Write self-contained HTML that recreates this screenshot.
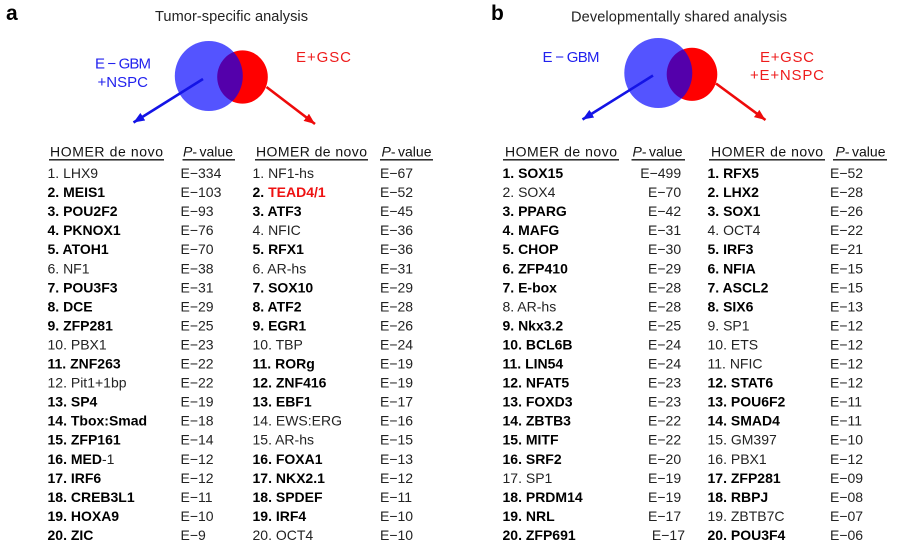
<!DOCTYPE html>
<html>
<head>
<meta charset="utf-8">
<style>
  html, body { margin: 0; padding: 0; background: #fff; }
  svg { display: block; }
  text { font-family: "Liberation Sans", Arial, Helvetica, sans-serif; }
  .row { font-size: 14px; fill: #222; }
  .b { font-weight: bold; fill: #000; }
  .n { font-weight: normal; fill: #222; }
  .hdr { font-size: 14px; fill: #111; }
</style>
</head>
<body>
<svg width="908" height="548" viewBox="0 0 908 548" xmlns="http://www.w3.org/2000/svg">
  <defs>
    <marker id="ab" markerUnits="userSpaceOnUse" markerWidth="11" markerHeight="9" refX="11" refY="4.5" orient="auto">
      <path d="M0,0 L11,4.5 L0,9 z" fill="#1414e6"/>
    </marker>
    <marker id="ar" markerUnits="userSpaceOnUse" markerWidth="11" markerHeight="9" refX="11" refY="4.5" orient="auto">
      <path d="M0,0 L11,4.5 L0,9 z" fill="#ee0a0a"/>
    </marker>
  </defs>
  <rect width="908" height="548" fill="#fff"/>

  <!-- Panel labels and titles -->
  <text x="6" y="20" font-size="21" font-weight="bold" fill="#000">a</text>
  <text x="491" y="20" font-size="21" font-weight="bold" fill="#000">b</text>
  <text x="155" y="21" font-size="14.6" fill="#222" textLength="153" lengthAdjust="spacing">Tumor-specific analysis</text>
  <text x="571" y="21.5" font-size="14.6" fill="#222" textLength="216" lengthAdjust="spacing">Developmentally shared analysis</text>

  <!-- Venn a -->
  <ellipse cx="242.5" cy="77" rx="25.3" ry="26.6" fill="#ff0000"/>
  <ellipse cx="208.8" cy="76" rx="34" ry="35" fill="#0000ff" fill-opacity="0.67"/>
  <line x1="203" y1="79" x2="133.5" y2="122.5" stroke="#1414e6" stroke-width="2.6" marker-end="url(#ab)"/>
  <line x1="266.5" y1="87" x2="315" y2="124" stroke="#ee0a0a" stroke-width="2.6" marker-end="url(#ar)"/>
  <text x="95" y="68.5" font-size="15" fill="#2222ee" textLength="56" lengthAdjust="spacing">E − GBM</text>
  <text x="97.5" y="87" font-size="15" fill="#2222ee" textLength="50.5" lengthAdjust="spacing">+NSPC</text>
  <text x="296" y="62" font-size="15" fill="#ee1c1c" textLength="55" lengthAdjust="spacing">E+GSC</text>

  <!-- Venn b -->
  <ellipse cx="692" cy="74.3" rx="25.3" ry="26.6" fill="#ff0000"/>
  <ellipse cx="658.3" cy="73" rx="34" ry="35" fill="#0000ff" fill-opacity="0.67"/>
  <line x1="653" y1="75.5" x2="582.5" y2="119.5" stroke="#1414e6" stroke-width="2.6" marker-end="url(#ab)"/>
  <line x1="716" y1="83.5" x2="765.5" y2="120" stroke="#ee0a0a" stroke-width="2.6" marker-end="url(#ar)"/>
  <text x="542.5" y="62" font-size="15" fill="#2222ee" textLength="57" lengthAdjust="spacing">E − GBM</text>
  <text x="760" y="62" font-size="15" fill="#ee1c1c" textLength="54" lengthAdjust="spacing">E+GSC</text>
  <text x="750" y="80" font-size="15" fill="#ee1c1c" textLength="74" lengthAdjust="spacing">+E+NSPC</text>

  <!-- Headers -->
  <g class="hdr">
    <text x="50" y="156.5" textLength="113" lengthAdjust="spacing">HOMER de novo</text>
    <text x="183" y="156.5"><tspan font-style="italic">P</tspan>-<tspan dx="2.5">value</tspan></text>
    <text x="256" y="156.5" textLength="111" lengthAdjust="spacing">HOMER de novo</text>
    <text x="381.5" y="156.5"><tspan font-style="italic">P</tspan>-<tspan dx="2.5">value</tspan></text>
    <text x="505" y="156.5" textLength="112" lengthAdjust="spacing">HOMER de novo</text>
    <text x="632.5" y="156.5"><tspan font-style="italic">P</tspan>-<tspan dx="2.5">value</tspan></text>
    <text x="711" y="156.5" textLength="112" lengthAdjust="spacing">HOMER de novo</text>
    <text x="835.5" y="156.5"><tspan font-style="italic">P</tspan>-<tspan dx="2.5">value</tspan></text>
  </g>
  <g stroke="#111" stroke-width="1.3">
    <line x1="49" y1="159.8" x2="164" y2="159.8"/>
    <line x1="182.5" y1="159.8" x2="235" y2="159.8"/>
    <line x1="255" y1="159.8" x2="368" y2="159.8"/>
    <line x1="380" y1="159.8" x2="433" y2="159.8"/>
    <line x1="503" y1="159.8" x2="619" y2="159.8"/>
    <line x1="631.5" y1="159.8" x2="685" y2="159.8"/>
    <line x1="709" y1="159.8" x2="825" y2="159.8"/>
    <line x1="833" y1="159.8" x2="887" y2="159.8"/>
  </g>

  <!-- Panel a, left names -->
  <text class="row" x="47.5" y="178">
    <tspan x="47.5" dy="0" class="n">1. LHX9</tspan>
    <tspan x="47.5" dy="19.05" class="b">2. MEIS1</tspan>
    <tspan x="47.5" dy="19.05" class="b">3. POU2F2</tspan>
    <tspan x="47.5" dy="19.05" class="b">4. PKNOX1</tspan>
    <tspan x="47.5" dy="19.05" class="b">5. ATOH1</tspan>
    <tspan x="47.5" dy="19.05" class="n">6. NF1</tspan>
    <tspan x="47.5" dy="19.05" class="b">7. POU3F3</tspan>
    <tspan x="47.5" dy="19.05" class="b">8. DCE</tspan>
    <tspan x="47.5" dy="19.05" class="b">9. ZFP281</tspan>
    <tspan x="47.5" dy="19.05" class="n">10. PBX1</tspan>
    <tspan x="47.5" dy="19.05" class="b">11. ZNF263</tspan>
    <tspan x="47.5" dy="19.05" class="n">12. Pit1+1bp</tspan>
    <tspan x="47.5" dy="19.05" class="b">13. SP4</tspan>
    <tspan x="47.5" dy="19.05" class="b">14. Tbox:Smad</tspan>
    <tspan x="47.5" dy="19.05" class="b">15. ZFP161</tspan>
    <tspan x="47.5" dy="19.05" class="b">16. MED<tspan class="n">-1</tspan></tspan>
    <tspan x="47.5" dy="19.05" class="b">17. IRF6</tspan>
    <tspan x="47.5" dy="19.05" class="b">18. CREB3L1</tspan>
    <tspan x="47.5" dy="19.05" class="b">19. HOXA9</tspan>
    <tspan x="47.5" dy="19.05" class="b">20. ZIC</tspan>
  </text>
  <text class="row" x="180.5" y="178">
    <tspan x="180.5" dy="0">E−334</tspan>
    <tspan x="180.5" dy="19.05">E−103</tspan>
    <tspan x="180.5" dy="19.05">E−93</tspan>
    <tspan x="180.5" dy="19.05">E−76</tspan>
    <tspan x="180.5" dy="19.05">E−70</tspan>
    <tspan x="180.5" dy="19.05">E−38</tspan>
    <tspan x="180.5" dy="19.05">E−31</tspan>
    <tspan x="180.5" dy="19.05">E−29</tspan>
    <tspan x="180.5" dy="19.05">E−25</tspan>
    <tspan x="180.5" dy="19.05">E−23</tspan>
    <tspan x="180.5" dy="19.05">E−22</tspan>
    <tspan x="180.5" dy="19.05">E−22</tspan>
    <tspan x="180.5" dy="19.05">E−19</tspan>
    <tspan x="180.5" dy="19.05">E−18</tspan>
    <tspan x="180.5" dy="19.05">E−14</tspan>
    <tspan x="180.5" dy="19.05">E−12</tspan>
    <tspan x="180.5" dy="19.05">E−12</tspan>
    <tspan x="180.5" dy="19.05">E−11</tspan>
    <tspan x="180.5" dy="19.05">E−10</tspan>
    <tspan x="180.5" dy="19.05">E−9</tspan>
  </text>

  <!-- Panel a, right names -->
  <text class="row" x="252.5" y="178">
    <tspan x="252.5" dy="0" class="n">1. NF1-hs</tspan>
    <tspan x="252.5" dy="19.05" class="b">2. <tspan fill="#ee1111">TEAD4/1</tspan></tspan>
    <tspan x="252.5" dy="19.05" class="b">3. ATF3</tspan>
    <tspan x="252.5" dy="19.05" class="n">4. NFIC</tspan>
    <tspan x="252.5" dy="19.05" class="b">5. RFX1</tspan>
    <tspan x="252.5" dy="19.05" class="n">6. AR-hs</tspan>
    <tspan x="252.5" dy="19.05" class="b">7. SOX10</tspan>
    <tspan x="252.5" dy="19.05" class="b">8. ATF2</tspan>
    <tspan x="252.5" dy="19.05" class="b">9. EGR1</tspan>
    <tspan x="252.5" dy="19.05" class="n">10. TBP</tspan>
    <tspan x="252.5" dy="19.05" class="b">11. RORg</tspan>
    <tspan x="252.5" dy="19.05" class="b">12. ZNF416</tspan>
    <tspan x="252.5" dy="19.05" class="b">13. EBF1</tspan>
    <tspan x="252.5" dy="19.05" class="n">14. EWS:ERG</tspan>
    <tspan x="252.5" dy="19.05" class="n">15. AR-hs</tspan>
    <tspan x="252.5" dy="19.05" class="b">16. FOXA1</tspan>
    <tspan x="252.5" dy="19.05" class="b">17. NKX2.1</tspan>
    <tspan x="252.5" dy="19.05" class="b">18. SPDEF</tspan>
    <tspan x="252.5" dy="19.05" class="b">19. IRF4</tspan>
    <tspan x="252.5" dy="19.05" class="n">20. OCT4</tspan>
  </text>
  <text class="row" x="380" y="178">
    <tspan x="380" dy="0">E−67</tspan>
    <tspan x="380" dy="19.05">E−52</tspan>
    <tspan x="380" dy="19.05">E−45</tspan>
    <tspan x="380" dy="19.05">E−36</tspan>
    <tspan x="380" dy="19.05">E−36</tspan>
    <tspan x="380" dy="19.05">E−31</tspan>
    <tspan x="380" dy="19.05">E−29</tspan>
    <tspan x="380" dy="19.05">E−28</tspan>
    <tspan x="380" dy="19.05">E−26</tspan>
    <tspan x="380" dy="19.05">E−24</tspan>
    <tspan x="380" dy="19.05">E−19</tspan>
    <tspan x="380" dy="19.05">E−19</tspan>
    <tspan x="380" dy="19.05">E−17</tspan>
    <tspan x="380" dy="19.05">E−16</tspan>
    <tspan x="380" dy="19.05">E−15</tspan>
    <tspan x="380" dy="19.05">E−13</tspan>
    <tspan x="380" dy="19.05">E−12</tspan>
    <tspan x="380" dy="19.05">E−11</tspan>
    <tspan x="380" dy="19.05">E−10</tspan>
    <tspan x="380" dy="19.05">E−10</tspan>
  </text>

  <!-- Panel b, left names -->
  <text class="row" x="502.5" y="178">
    <tspan x="502.5" dy="0" class="b">1. SOX15</tspan>
    <tspan x="502.5" dy="19.05" class="n">2. SOX4</tspan>
    <tspan x="502.5" dy="19.05" class="b">3. PPARG</tspan>
    <tspan x="502.5" dy="19.05" class="b">4. MAFG</tspan>
    <tspan x="502.5" dy="19.05" class="b">5. CHOP</tspan>
    <tspan x="502.5" dy="19.05" class="b">6. ZFP410</tspan>
    <tspan x="502.5" dy="19.05" class="b">7. E-box</tspan>
    <tspan x="502.5" dy="19.05" class="n">8. AR-hs</tspan>
    <tspan x="502.5" dy="19.05" class="b">9. Nkx3.2</tspan>
    <tspan x="502.5" dy="19.05" class="b">10. BCL6B</tspan>
    <tspan x="502.5" dy="19.05" class="b">11. LIN54</tspan>
    <tspan x="502.5" dy="19.05" class="b">12. NFAT5</tspan>
    <tspan x="502.5" dy="19.05" class="b">13. FOXD3</tspan>
    <tspan x="502.5" dy="19.05" class="b">14. ZBTB3</tspan>
    <tspan x="502.5" dy="19.05" class="b">15. MITF</tspan>
    <tspan x="502.5" dy="19.05" class="b">16. SRF2</tspan>
    <tspan x="502.5" dy="19.05" class="n">17. SP1</tspan>
    <tspan x="502.5" dy="19.05" class="b">18. PRDM14</tspan>
    <tspan x="502.5" dy="19.05" class="b">19. NRL</tspan>
    <tspan x="502.5" dy="19.05" class="b">20. ZFP691</tspan>
  </text>
  <text class="row" x="685" y="178" text-anchor="end">
    <tspan x="685" dy="0">E−499</tspan>
    <tspan x="685" dy="19.05">E−70</tspan>
    <tspan x="685" dy="19.05">E−42</tspan>
    <tspan x="685" dy="19.05">E−31</tspan>
    <tspan x="685" dy="19.05">E−30</tspan>
    <tspan x="685" dy="19.05">E−29</tspan>
    <tspan x="685" dy="19.05">E−28</tspan>
    <tspan x="685" dy="19.05">E−28</tspan>
    <tspan x="685" dy="19.05">E−25</tspan>
    <tspan x="685" dy="19.05">E−24</tspan>
    <tspan x="685" dy="19.05">E−24</tspan>
    <tspan x="685" dy="19.05">E−23</tspan>
    <tspan x="685" dy="19.05">E−23</tspan>
    <tspan x="685" dy="19.05">E−22</tspan>
    <tspan x="685" dy="19.05">E−22</tspan>
    <tspan x="685" dy="19.05">E−20</tspan>
    <tspan x="685" dy="19.05">E−19</tspan>
    <tspan x="685" dy="19.05">E−19</tspan>
    <tspan x="685" dy="19.05">E−17</tspan>
    <tspan x="685" dy="19.05">E−17</tspan>
  </text>

  <!-- Panel b, right names -->
  <text class="row" x="707.5" y="178">
    <tspan x="707.5" dy="0" class="b">1. RFX5</tspan>
    <tspan x="707.5" dy="19.05" class="b">2. LHX2</tspan>
    <tspan x="707.5" dy="19.05" class="b">3. SOX1</tspan>
    <tspan x="707.5" dy="19.05" class="n">4. OCT4</tspan>
    <tspan x="707.5" dy="19.05" class="b">5. IRF3</tspan>
    <tspan x="707.5" dy="19.05" class="b">6. NFIA</tspan>
    <tspan x="707.5" dy="19.05" class="b">7. ASCL2</tspan>
    <tspan x="707.5" dy="19.05" class="b">8. SIX6</tspan>
    <tspan x="707.5" dy="19.05" class="n">9. SP1</tspan>
    <tspan x="707.5" dy="19.05" class="n">10. ETS</tspan>
    <tspan x="707.5" dy="19.05" class="n">11. NFIC</tspan>
    <tspan x="707.5" dy="19.05" class="b">12. STAT6</tspan>
    <tspan x="707.5" dy="19.05" class="b">13. POU6F2</tspan>
    <tspan x="707.5" dy="19.05" class="b">14. SMAD4</tspan>
    <tspan x="707.5" dy="19.05" class="n">15. GM397</tspan>
    <tspan x="707.5" dy="19.05" class="n">16. PBX1</tspan>
    <tspan x="707.5" dy="19.05" class="b">17. ZFP281</tspan>
    <tspan x="707.5" dy="19.05" class="b">18. RBPJ</tspan>
    <tspan x="707.5" dy="19.05" class="n">19. ZBTB7C</tspan>
    <tspan x="707.5" dy="19.05" class="b">20. POU3F4</tspan>
  </text>
  <text class="row" x="830" y="178">
    <tspan x="830" dy="0">E−52</tspan>
    <tspan x="830" dy="19.05">E−28</tspan>
    <tspan x="830" dy="19.05">E−26</tspan>
    <tspan x="830" dy="19.05">E−22</tspan>
    <tspan x="830" dy="19.05">E−21</tspan>
    <tspan x="830" dy="19.05">E−15</tspan>
    <tspan x="830" dy="19.05">E−15</tspan>
    <tspan x="830" dy="19.05">E−13</tspan>
    <tspan x="830" dy="19.05">E−12</tspan>
    <tspan x="830" dy="19.05">E−12</tspan>
    <tspan x="830" dy="19.05">E−12</tspan>
    <tspan x="830" dy="19.05">E−12</tspan>
    <tspan x="830" dy="19.05">E−11</tspan>
    <tspan x="830" dy="19.05">E−11</tspan>
    <tspan x="830" dy="19.05">E−10</tspan>
    <tspan x="830" dy="19.05">E−12</tspan>
    <tspan x="830" dy="19.05">E−09</tspan>
    <tspan x="830" dy="19.05">E−08</tspan>
    <tspan x="830" dy="19.05">E−07</tspan>
    <tspan x="830" dy="19.05">E−06</tspan>
  </text>
</svg>
</body>
</html>
